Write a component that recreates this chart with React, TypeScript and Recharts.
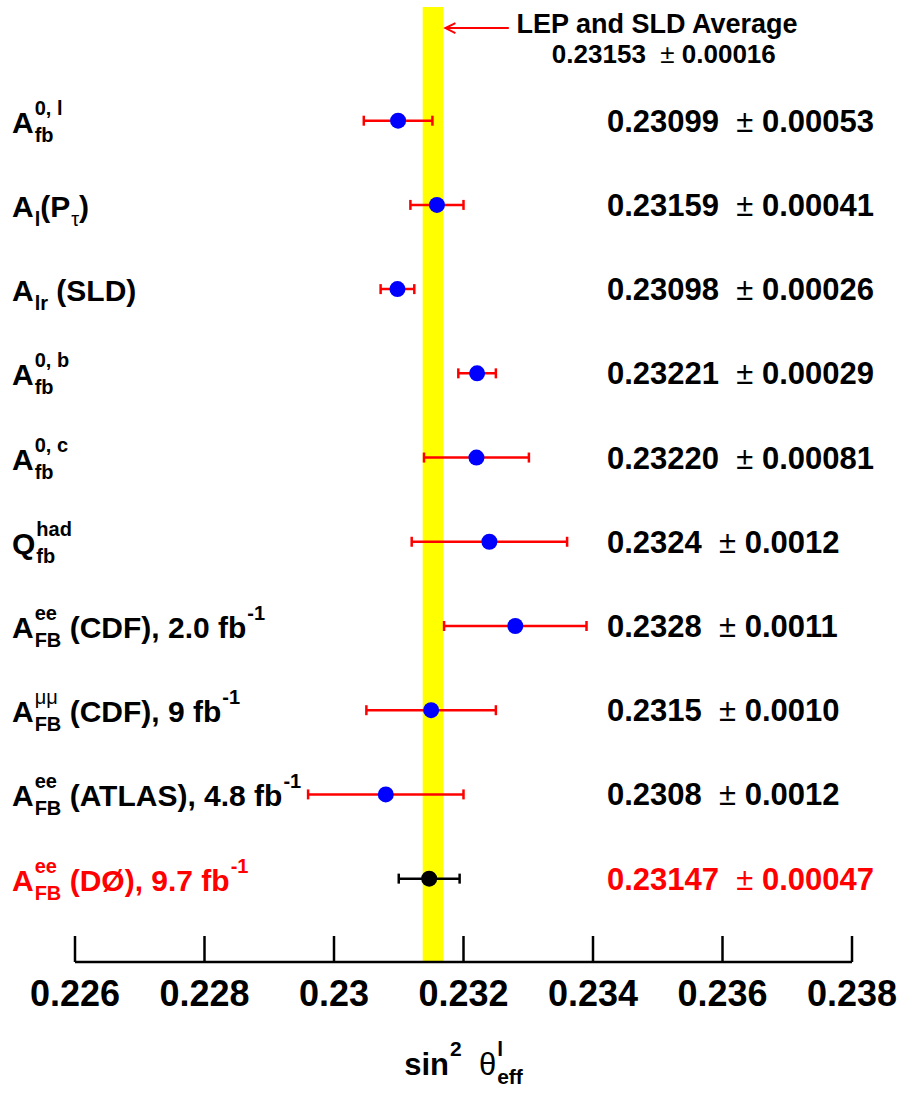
import {
  ScatterChart,
  Scatter,
  XAxis,
  YAxis,
  ErrorBar,
  ReferenceArea,
  ReferenceLine,
} from 'recharts';

// measurements, top to bottom
const ROW_LABELS = [
  'A_{fb}^{0, l}',
  'A_{l}(P_{τ})',
  'A_{lr} (SLD)',
  'A_{fb}^{0, b}',
  'A_{fb}^{0, c}',
  'Q_{fb}^{had}',
  'A_{FB}^{ee} (CDF), 2.0 fb^{-1}',
  'A_{FB}^{μμ} (CDF), 9 fb^{-1}',
  'A_{FB}^{ee} (ATLAS), 4.8 fb^{-1}',
  'A_{FB}^{ee} (DØ), 9.7 fb^{-1}',
];
const CENTRAL = [0.23099, 0.23159, 0.23098, 0.23221, 0.2322, 0.2324, 0.2328, 0.2315, 0.2308, 0.23147];
const ERRORS = [0.00053, 0.00041, 0.00026, 0.00029, 0.00081, 0.0012, 0.0011, 0.001, 0.0012, 0.00047];
const VALUE_TEXT = ['0.23099', '0.23159', '0.23098', '0.23221', '0.23220', '0.2324', '0.2328', '0.2315', '0.2308', '0.23147'];
const ERROR_TEXT = ['0.00053', '0.00041', '0.00026', '0.00029', '0.00081', '0.0012', '0.0011', '0.0010', '0.0012', '0.00047'];
const ROW_TICKS = [1, 2, 3, 4, 5, 6, 7, 8, 9, 10];
const X_TICKS = [0.226, 0.228, 0.23, 0.232, 0.234, 0.236, 0.238];

const LEP_AVERAGE = 0.23153;
const LEP_ERROR = 0.00016;

const rows = CENTRAL.map((v, i) => ({ x: v, y: i + 1, err: ERRORS[i] }));
const otherRows = rows.slice(0, 9);
const d0Rows = rows.slice(9);

const FONT = '"Liberation Sans", Arial, Helvetica, sans-serif';
const THIN = /[\u0370-\u03ff±]/;

let ctx: CanvasRenderingContext2D | null = null;
function textWidth(s: string, size: number, bold: boolean) {
  if (!ctx) ctx = document.createElement('canvas').getContext('2d');
  if (!ctx) return s.length * size * 0.55;
  ctx.font = `${bold ? 'bold' : 'normal'} ${size}px "Liberation Sans"`;
  return ctx.measureText(s).width;
}

// tiny parser for X_{sub}^{sup}
type Tok = { text?: string; sub?: string; sup?: string; script?: boolean };
function parse(src: string): Tok[] {
  const out: Tok[] = [];
  let buf = '';
  let i = 0;
  while (i < src.length) {
    const c = src[i];
    if ((c === '_' || c === '^') && src[i + 1] === '{') {
      const end = src.indexOf('}', i);
      const content = src.slice(i + 2, end);
      if (buf) {
        out.push({ text: buf });
        buf = '';
      }
      const last = out[out.length - 1];
      const key = c === '_' ? 'sub' : 'sup';
      if (last && last.script && !last[key]) last[key] = content;
      else out.push({ script: true, [key]: content });
      i = end + 1;
    } else {
      buf += c;
      i++;
    }
  }
  if (buf) out.push({ text: buf });
  return out;
}

type Span = { t: string; dx: number; dy: number; size: number; bold: boolean };
function layout(src: string, size: number) {
  const small = Math.round(size * 0.67);
  const spans: Span[] = [];
  let cx = 0;
  const runs = (s: string) => s.match(/[\u0370-\u03ff±]+|[^\u0370-\u03ff±]+/g) || [];
  parse(src).forEach((tk) => {
    if (tk.text !== undefined) {
      runs(tk.text).forEach((r) => {
        const bold = !THIN.test(r);
        spans.push({ t: r, dx: cx, dy: 0, size, bold });
        cx += textWidth(r, size, bold);
      });
    } else {
      let w = 0;
      if (tk.sub) {
        const bold = !THIN.test(tk.sub);
        spans.push({ t: tk.sub, dx: cx + 1, dy: size * 0.3, size: small, bold });
        w = Math.max(w, textWidth(tk.sub, small, bold));
      }
      if (tk.sup) {
        const bold = !THIN.test(tk.sup);
        spans.push({ t: tk.sup, dx: cx + 1, dy: -size * 0.6, size: small, bold });
        w = Math.max(w, textWidth(tk.sup, small, bold));
      }
      cx += w + 1;
    }
  });
  return { spans, width: cx };
}

function RichText({ src, x, y, size, color, anchor = 'start' }: any) {
  const { spans, width } = layout(src, size);
  const x0 = anchor === 'middle' ? x - width / 2 : x;
  return (
    <text fill={color} fontFamily={FONT} style={{ whiteSpace: 'pre' }}>
      {spans.map((s, i) => (
        <tspan key={i} x={x0 + s.dx} y={y + s.dy} fontSize={s.size} fontWeight={s.bold ? 'bold' : 'normal'}>
          {s.t}
        </tspan>
      ))}
    </text>
  );
}

const RowTick = ({ y, payload }: any) => {
  const i = payload.value - 1;
  const color = i === 9 ? '#ff0000' : '#000000';
  return (
    <g>
      <RichText src={ROW_LABELS[i]} x={12} y={y + 12} size={30} color={color} />
      <RichText src={`${VALUE_TEXT[i]}  ± ${ERROR_TEXT[i]}`} x={607} y={y + 11} size={31} color={color} />
    </g>
  );
};

const XTick = ({ x, y, payload }: any) => (
  <g>
    <line x1={x} x2={x} y1={y - 26} y2={y} stroke="#000" strokeWidth={2.5} />
    <text x={x} y={y + 44} textAnchor="middle" fontSize={36} fontWeight="bold" fontFamily={FONT} fill="#000">
      {payload.value}
    </text>
  </g>
);

const AxisTitle = (props: any) => {
  const vb = props.viewBox || { x: 75, y: 962, width: 777 };
  return (
    <RichText src={'sin^{2}  θ_{eff}^{l}'} x={vb.x + vb.width / 2} y={vb.y + 113} size={31} color="#000" anchor="middle" />
  );
};

const AverageArrow = (props: any) => {
  const { x1, y1, x2 } = props;
  return (
    <g>
      <line x1={x1 + 2} x2={x2} y1={y1} y2={y1} stroke="#ff0000" strokeWidth={2} />
      <polyline points={`${x1 + 12},${y1 - 5} ${x1 + 2},${y1} ${x1 + 12},${y1 + 5}`} fill="none" stroke="#ff0000" strokeWidth={2} />
      <RichText src="LEP and SLD Average" x={x2 + 149} y={y1 + 5} size={27} color="#000" anchor="middle" />
      <RichText src={`${LEP_AVERAGE}  ± ${LEP_ERROR.toFixed(5)}`} x={x2 + 155} y={y1 + 35} size={26} color="#000" anchor="middle" />
    </g>
  );
};

export default function App() {
  return (
    <div style={{ position: 'absolute', left: 0, top: 0, width: 903, height: 1096, background: '#fff' }}>
      <ScatterChart width={903} height={1096} margin={{ top: 7, right: 51, left: 74, bottom: 0 }}>
        <XAxis
          type="number"
          dataKey="x"
          domain={[0.226, 0.238]}
          ticks={X_TICKS}
          interval={0}
          allowDataOverflow
          height={134}
          tickSize={0}
          tickMargin={0}
          tickLine={false}
          tick={<XTick />}
          axisLine={{ stroke: '#000', strokeWidth: 2.5 }}
          label={{ content: <AxisTitle /> }}
        />
        <YAxis
          type="number"
          dataKey="y"
          domain={[-0.35, 10.99]}
          ticks={ROW_TICKS}
          interval={0}
          reversed
          allowDataOverflow
          width={1}
          axisLine={false}
          tickLine={false}
          tick={<RowTick />}
        />
        <ReferenceArea
          x1={LEP_AVERAGE - LEP_ERROR}
          x2={LEP_AVERAGE + LEP_ERROR}
          fill="#ffff00"
          fillOpacity={1}
          stroke="none"
        />
        <ReferenceLine
          segment={[
            { x: LEP_AVERAGE + LEP_ERROR, y: -0.1 },
            { x: 0.2327, y: -0.1 },
          ]}
          shape={<AverageArrow />}
        />
        <Scatter
          data={otherRows}
          isAnimationActive={false}
          shape={(p: any) => <circle cx={p.cx} cy={p.cy} r={8} fill="#0000ff" />}
        >
          <ErrorBar dataKey="err" direction="x" width={5} stroke="#ff0000" strokeWidth={2.5} isAnimationActive={false} />
        </Scatter>
        <Scatter
          data={d0Rows}
          isAnimationActive={false}
          shape={(p: any) => <circle cx={p.cx} cy={p.cy} r={8} fill="#000000" />}
        >
          <ErrorBar dataKey="err" direction="x" width={5} stroke="#000000" strokeWidth={2.5} isAnimationActive={false} />
        </Scatter>
      </ScatterChart>
    </div>
  );
}
